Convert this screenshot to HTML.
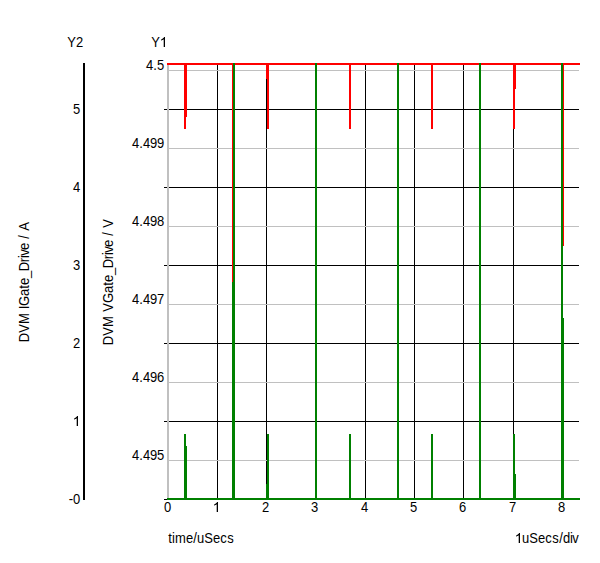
<!DOCTYPE html>
<html><head><meta charset="utf-8"><title>Chart</title>
<style>
html,body{margin:0;padding:0;background:#fff;}
body{width:600px;height:563px;overflow:hidden;}
svg{display:block;}
text{font-family:"Liberation Sans",sans-serif;font-size:13px;fill:#000;}
</style></head><body>
<svg width="600" height="563" viewBox="0 0 600 563">
<rect x="0" y="0" width="600" height="563" fill="#fff"/>
<g shape-rendering="crispEdges">
<rect x="217" y="65" width="1" height="433" fill="#000"/>
<rect x="266" y="65" width="1" height="433" fill="#000"/>
<rect x="315" y="65" width="1" height="433" fill="#000"/>
<rect x="365" y="65" width="1" height="433" fill="#000"/>
<rect x="414" y="65" width="1" height="433" fill="#000"/>
<rect x="463" y="65" width="1" height="433" fill="#000"/>
<rect x="513" y="65" width="1" height="433" fill="#000"/>
<rect x="562" y="65" width="1" height="433" fill="#000"/>
<rect x="164" y="109" width="415" height="1" fill="#000"/>
<rect x="164" y="187" width="415" height="1" fill="#000"/>
<rect x="164" y="265" width="415" height="1" fill="#000"/>
<rect x="164" y="343" width="415" height="1" fill="#000"/>
<rect x="164" y="421" width="415" height="1" fill="#000"/>
<rect x="164" y="499" width="3" height="1" fill="#000"/>
<rect x="169" y="70" width="410" height="1" fill="#c0c0c0"/>
<rect x="169" y="148" width="410" height="1" fill="#c0c0c0"/>
<rect x="169" y="226" width="410" height="1" fill="#c0c0c0"/>
<rect x="169" y="304" width="410" height="1" fill="#c0c0c0"/>
<rect x="169" y="382" width="410" height="1" fill="#c0c0c0"/>
<rect x="169" y="460" width="410" height="1" fill="#c0c0c0"/>
<rect x="167" y="63" width="2" height="437" fill="#c0c0c0"/>
<rect x="83" y="63" width="2" height="437" fill="#000"/>
<rect x="167" y="63" width="413" height="2" fill="#ff0000"/>
<rect x="184" y="65" width="3" height="52" fill="#ff0000"/>
<rect x="184" y="117" width="2" height="12" fill="#ff0000"/>
<rect x="266" y="65" width="3" height="14" fill="#ff0000"/>
<rect x="267" y="79" width="2" height="50" fill="#ff0000"/>
<rect x="349" y="65" width="2" height="64" fill="#ff0000"/>
<rect x="431" y="65" width="2" height="64" fill="#ff0000"/>
<rect x="513" y="65" width="3" height="24" fill="#ff0000"/>
<rect x="513" y="89" width="2" height="40" fill="#ff0000"/>
<rect x="232" y="65" width="1" height="217" fill="#ff0000"/>
<rect x="563" y="65" width="1" height="181" fill="#ff0000"/>
<rect x="167" y="498" width="413" height="2" fill="#008000"/>
<rect x="233" y="63" width="2" height="437" fill="#008000"/>
<rect x="232" y="282" width="1" height="218" fill="#008000"/>
<rect x="315" y="63" width="2" height="437" fill="#008000"/>
<rect x="397" y="63" width="2" height="437" fill="#008000"/>
<rect x="479" y="63" width="2" height="437" fill="#008000"/>
<rect x="561" y="63" width="2" height="437" fill="#008000"/>
<rect x="563" y="318" width="1" height="182" fill="#008000"/>
<rect x="184" y="434" width="2" height="64" fill="#008000"/>
<rect x="186" y="446" width="1" height="52" fill="#008000"/>
<rect x="267" y="434" width="2" height="64" fill="#008000"/>
<rect x="266" y="484" width="1" height="14" fill="#008000"/>
<rect x="349" y="434" width="2" height="64" fill="#008000"/>
<rect x="431" y="434" width="2" height="64" fill="#008000"/>
<rect x="513" y="434" width="2" height="64" fill="#008000"/>
<rect x="515" y="474" width="1" height="24" fill="#008000"/>
</g>
<g fill="#000">
<text transform="translate(67,47) scale(1,1.075)" x="0.16 8.89" y="0">Y2</text>
<path transform="translate(159.489,47) scale(0.007222,-0.006803)" d="M763 0H583V1147Q518 1085 412.5 1023T223 930V1104Q373 1174.5 485 1275T644 1470H763Z"/><text transform="translate(151,47) scale(1,1.075)" x="0.16" y="0">Y</text>
<text transform="translate(73,114) scale(1,1.075)" x="-0.11" y="0">5</text>
<text transform="translate(73,192) scale(1,1.075)" x="-0.11" y="0">4</text>
<text transform="translate(73,270) scale(1,1.075)" x="-0.11" y="0">3</text>
<text transform="translate(73,348) scale(1,1.075)" x="-0.11" y="0">2</text>
<path transform="translate(72.489,426) scale(0.007222,-0.006803)" d="M763 0H583V1147Q518 1085 412.5 1023T223 930V1104Q373 1174.5 485 1275T644 1470H763Z"/>
<text transform="translate(69,504) scale(1,1.075)" x="-0.16 3.89" y="0">-0</text>
<text transform="translate(146,70) scale(1,1.075)" x="-0.11 7.19 10.89" y="0">4.5</text>
<text transform="translate(132,148) scale(1,1.075)" x="-0.11 7.19 10.89 17.89 24.89" y="0">4.499</text>
<text transform="translate(132,226) scale(1,1.075)" x="-0.11 7.19 10.89 17.89 24.89" y="0">4.498</text>
<text transform="translate(132,304) scale(1,1.075)" x="-0.11 7.19 10.89 17.89 24.89" y="0">4.497</text>
<text transform="translate(132,382) scale(1,1.075)" x="-0.11 7.19 10.89 17.89 24.89" y="0">4.496</text>
<text transform="translate(132,460) scale(1,1.075)" x="-0.11 7.19 10.89 17.89 24.89" y="0">4.495</text>
<text transform="translate(164,512) scale(1,1.075)" x="-0.11" y="0">0</text>
<path transform="translate(212.489,512) scale(0.007222,-0.006803)" d="M763 0H583V1147Q518 1085 412.5 1023T223 930V1104Q373 1174.5 485 1275T644 1470H763Z"/>
<text transform="translate(262,512) scale(1,1.075)" x="-0.11" y="0">2</text>
<text transform="translate(311,512) scale(1,1.075)" x="-0.11" y="0">3</text>
<text transform="translate(361,512) scale(1,1.075)" x="-0.11" y="0">4</text>
<text transform="translate(410,512) scale(1,1.075)" x="-0.11" y="0">5</text>
<text transform="translate(459,512) scale(1,1.075)" x="-0.11" y="0">6</text>
<text transform="translate(509,512) scale(1,1.075)" x="-0.11" y="0">7</text>
<text transform="translate(558,512) scale(1,1.075)" x="-0.11" y="0">8</text>
<text transform="translate(168,543) scale(1,1.075)" x="0.19 4.06 7.09 17.89 25.19 28.89 36.16 44.89 52.25 59.25" y="0">time/uSecs</text>
<path transform="translate(514.489,543) scale(0.007222,-0.006803)" d="M763 0H583V1147Q518 1085 412.5 1023T223 930V1104Q373 1174.5 485 1275T644 1470H763Z"/><text transform="translate(515,543) scale(1,1.075)" x="6.89 14.16 22.89 30.25 37.25 44.19 47.89 55.06 57.25" y="0">uSecs/div</text>
<g transform="translate(29,342) rotate(-90)"><text transform="translate(0,0) scale(1,1.075)" x="-0.19 9.16 18.09 32.69 35.94 45.89 53.19 56.89 63.89 70.81 79.84 84.06 86.25 91.89 103.19 111.16" y="0">DVMIGate_Drive/A</text></g>
<g transform="translate(113,345) rotate(-90)"><text transform="translate(0,0) scale(1,1.075)" x="-0.19 9.16 18.09 33.16 41.94 51.89 59.19 62.89 69.89 76.81 85.84 90.06 92.25 97.89 109.19 117.16" y="0">DVMVGate_Drive/V</text></g>
</g>
</svg>
</body></html>
